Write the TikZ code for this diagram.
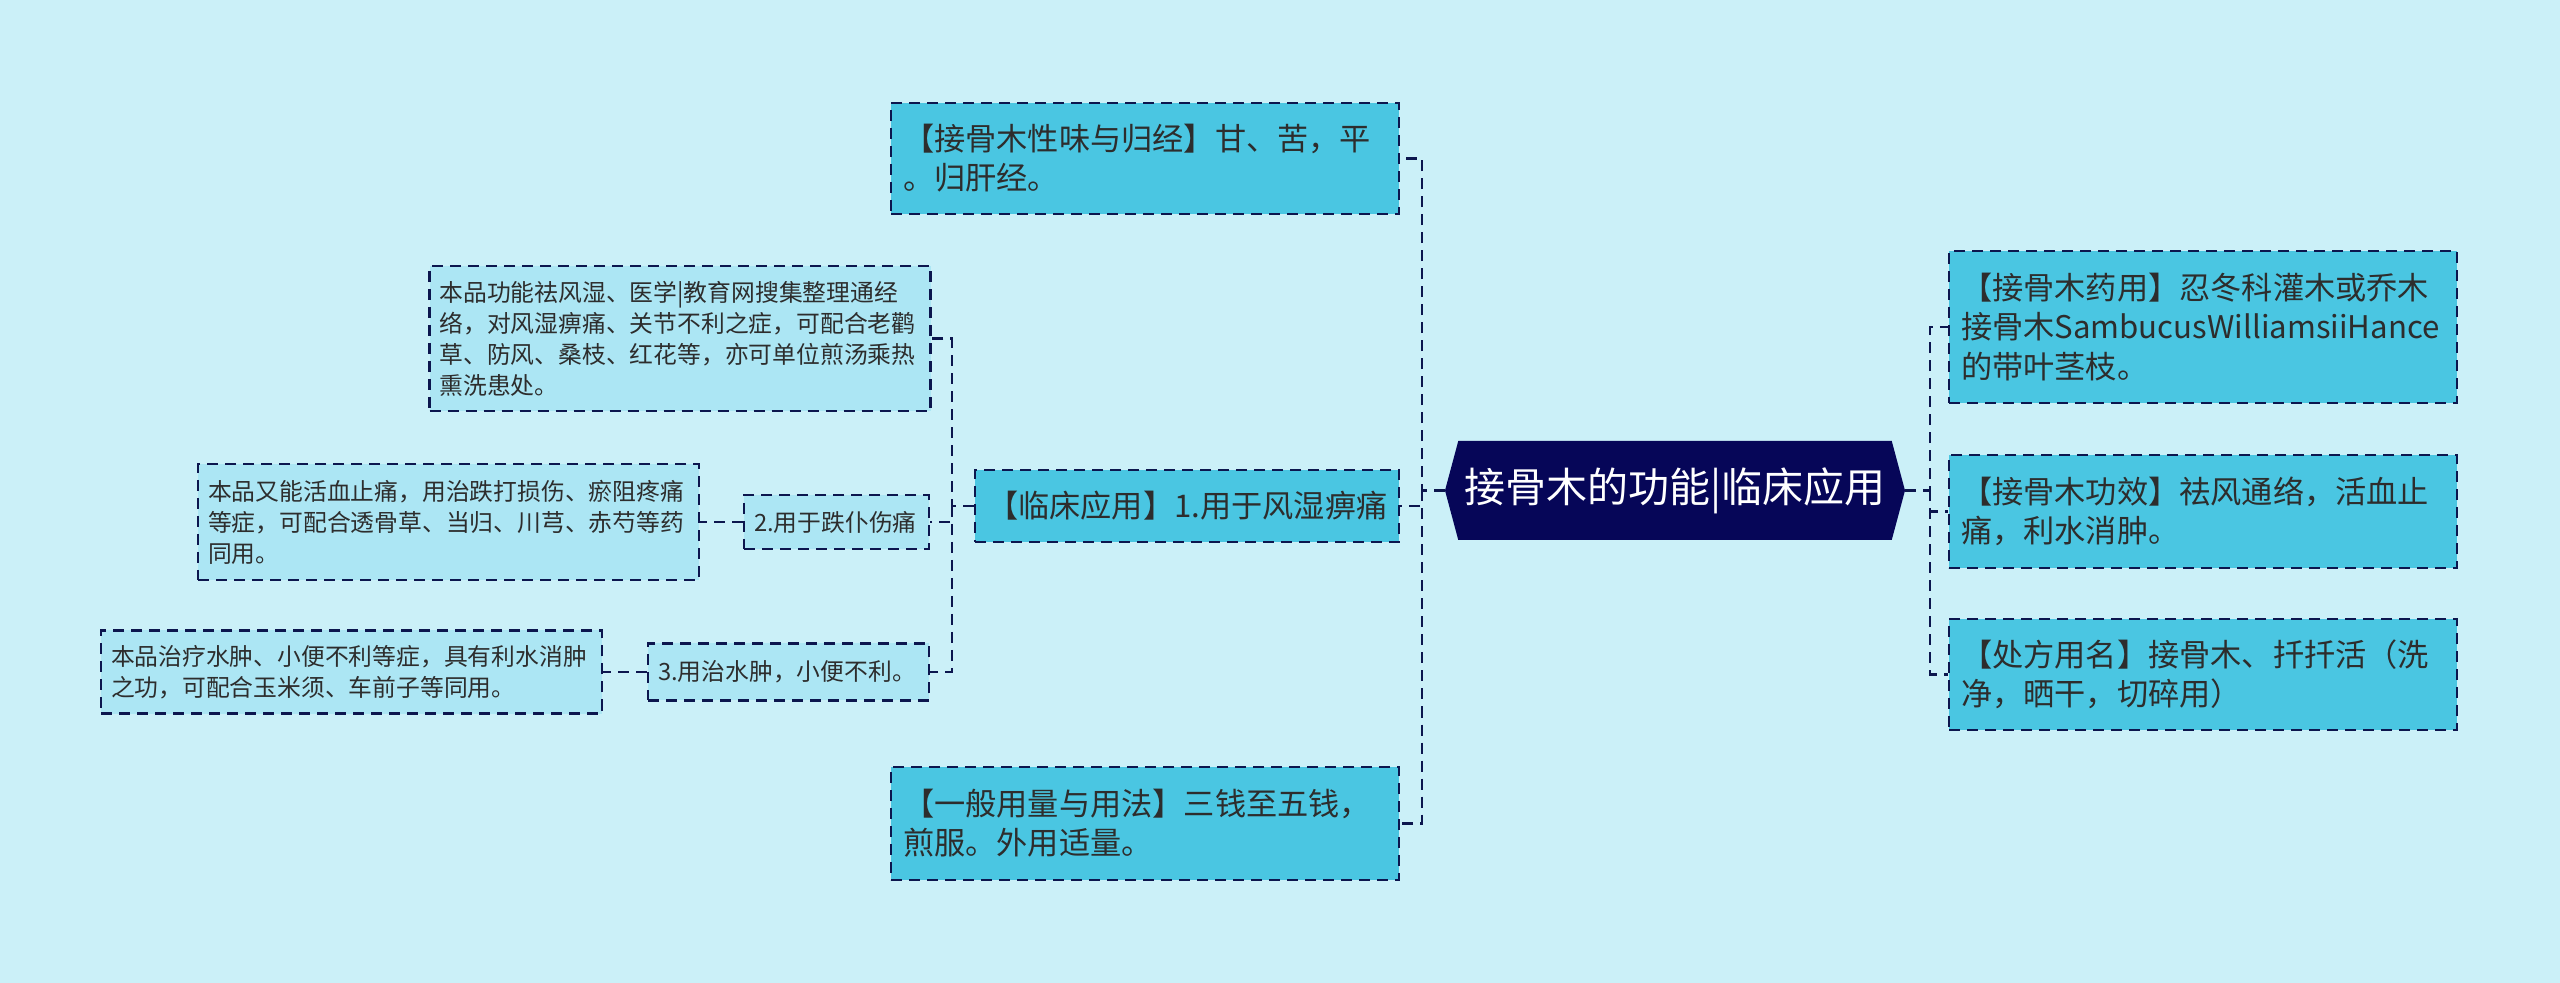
\documentclass[tikz,border=0pt]{standalone}
\usepackage{fontspec}
\setmainfont{Noto Sans CJK SC}
\usetikzlibrary{shapes.symbols}
\definecolor{bgcol}{RGB}{203,240,248}
\definecolor{boxcol}{RGB}{74,198,226}
\definecolor{leafcol}{RGB}{172,230,244}
\definecolor{navy}{RGB}{6,6,88}
\definecolor{linecol}{RGB}{12,22,78}
\definecolor{txtcol}{RGB}{45,45,45}
\tikzset{
    link/.style={draw=linecol, line width=1.4pt, dash pattern=on 5.5pt off 3.5pt}, % dashed connectors
    mainbox/.style={draw=linecol, line width=1.2pt, dash pattern=on 5.5pt off 3.5pt,
        fill=boxcol, text=txtcol, align=left, inner xsep=6pt, inner ysep=0pt,
        font=\fontsize{15.6}{19.6}\selectfont}, % big blue boxes
    leafbox/.style={mainbox, fill=leafcol, inner xsep=5pt,
        font=\fontsize{11.9}{15.5}\selectfont}, % small light boxes
    rootbox/.style={signal, signal to=west and east, signal pointer angle=150,
        fill=navy, text=white, inner sep=0pt, font=\fontsize{20.5}{24}\selectfont},
}

\begin{document}
\begin{tikzpicture}[x=0.5pt, y=-0.5pt]
    \useasboundingbox[fill=bgcol] (0,0) rectangle (2560,983);

    % Centro
    \node[rootbox, minimum width=230pt, minimum height=49.5pt] (root) at (1675,490.5) {接骨木的功能|临床应用};

    % Sinistra
    \node[mainbox, text width=242pt, minimum height=55.5pt] (taste) at (1145,158.5)
        {【接骨木性味与归经】甘、苦，平\\。归肝经。};
    \node[mainbox, text width=200pt, minimum height=36pt] (clinic) at (1187,506)
        {【临床应用】1.用于风湿痹痛};
    \node[mainbox, text width=242pt, minimum height=56.5pt] (dose) at (1145,823.5)
        {【一般用量与用法】三钱至五钱，\\煎服。外用适量。};

    \node[leafbox, text width=240.5pt, minimum height=72.5pt] (wind) at (680,338.5)
        {本品功能祛风湿、医学|教育网搜集整理通经\\络，对风湿痹痛、关节不利之症，可配合老鹳\\草、防风、桑枝、红花等，亦可单位煎汤乘热\\熏洗患处。};
    \node[leafbox, text width=82.5pt, minimum height=27pt] (injury) at (836.5,522)
        {2.用于跌仆伤痛};
    \node[leafbox, text width=240.5pt, minimum height=58pt] (bruise) at (448.5,522)
        {本品又能活血止痛，用治跌打损伤、瘀阻疼痛\\等症，可配合透骨草、当归、川芎、赤芍等药\\同用。};
    \node[leafbox, text width=130.5pt, minimum height=28.5pt] (swell) at (788.5,672)
        {3.用治水肿，小便不利。};
    \node[leafbox, text width=240.5pt, minimum height=41.5pt] (edema) at (351.5,672)
        {本品治疗水肿、小便不利等症，具有利水消肿\\之功，可配合玉米须、车前子等同用。};

    % Destra
    \node[mainbox, text width=242pt, minimum height=76pt] (use) at (2203,327)
        {【接骨木药用】忍冬科灌木或乔木\\接骨木SambucusWilliamsiiHance\\的带叶茎枝。};
    \node[mainbox, text width=242pt, minimum height=56.5pt] (effect) at (2203,511.5)
        {【接骨木功效】祛风通络，活血止\\痛，利水消肿。};
    \node[mainbox, text width=242pt, minimum height=55.5pt] (name) at (2203,674.5)
        {【处方用名】接骨木、扦扦活（洗\\净，晒干，切碎用）};

    % Collegamenti
    \coordinate (ltrunk) at (1422,490.5);
    \coordinate (ctrunk) at (952,506);
    \coordinate (rtrunk) at (1930,490.5);
    \draw[link] (root.west) -- (ltrunk) |- (taste.east);
    \draw[link] (ltrunk) |- (clinic.east);
    \draw[link] (ltrunk) |- (dose.east);
    \draw[link] (clinic.west) -- (ctrunk) |- (wind.east);
    \draw[link] (ctrunk) |- (injury.east);
    \draw[link] (ctrunk) |- (swell.east);
    \draw[link] (injury.west) -- (bruise.east);
    \draw[link] (swell.west) -- (edema.east);
    \draw[link] (root.east) -- (rtrunk) |- (use.west);
    \draw[link] (rtrunk) |- (effect.west);
    \draw[link] (rtrunk) |- (name.west);
\end{tikzpicture}
\end{document}
